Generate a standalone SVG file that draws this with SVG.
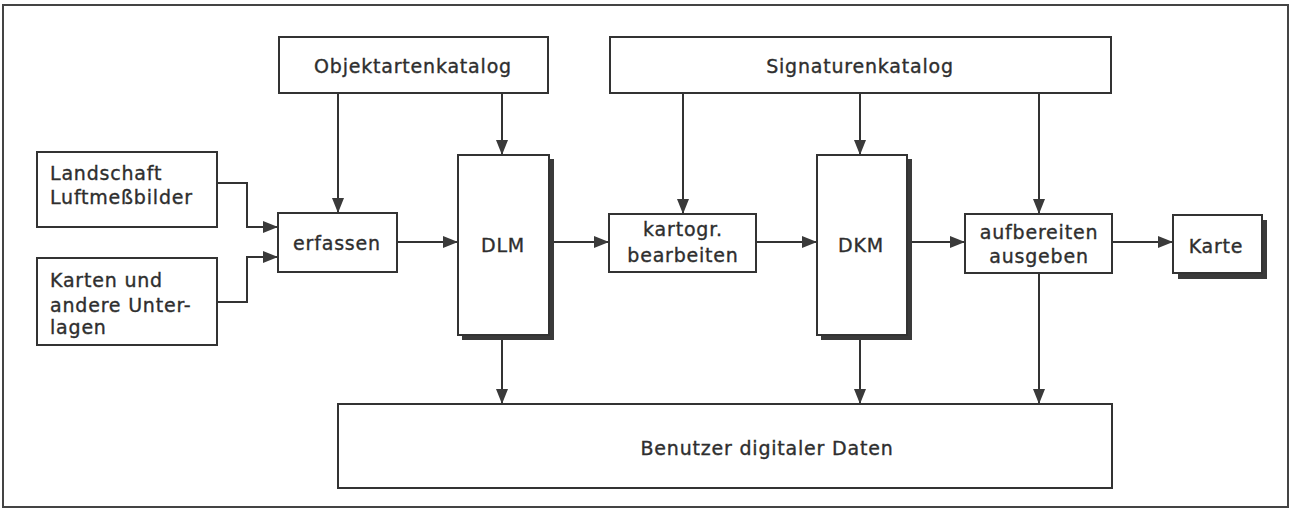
<svg xmlns="http://www.w3.org/2000/svg" width="1295" height="512" viewBox="0 0 1295 512">
<defs>
<style>
.box{fill:#fff;stroke:#333;stroke-width:2}
.sh{fill:#3a3a3a}
.t{font-family:"DejaVu Sans","Liberation Sans",sans-serif;font-size:19px;letter-spacing:0.8px;fill:#2e2e2e;stroke:#2e2e2e;stroke-width:0.35px}
.c{text-anchor:middle}
.ln{fill:none;stroke:#333;stroke-width:2}
</style>
<marker id="ah" viewBox="0 0 15 12" refX="15" refY="6" markerWidth="15" markerHeight="12" markerUnits="userSpaceOnUse" orient="auto">
<path d="M0,0 L15,6 L0,12 Z" fill="#3a3a3a"/>
</marker>
</defs>
<rect x="0" y="0" width="1295" height="512" fill="#fff"/>
<rect x="3" y="5" width="1285" height="502" fill="none" stroke="#444" stroke-width="2"/>

<g id="objektartenkatalog">
<rect class="box" x="279" y="37" width="269" height="56"/>
<text class="t c" x="413" y="73">Objektartenkatalog</text>
</g>
<g id="signaturenkatalog">
<rect class="box" x="610" y="37" width="501" height="56"/>
<text class="t c" x="860" y="73">Signaturenkatalog</text>
</g>
<g id="landschaft">
<rect class="box" x="37" y="152" width="180" height="75"/>
<text class="t" x="50" y="180">Landschaft</text>
<text class="t" x="50" y="204">Luftmeßbilder</text>
</g>
<g id="karten">
<rect class="box" x="37" y="258" width="180" height="87"/>
<text class="t" x="50" y="287">Karten und</text>
<text class="t" x="50" y="312">andere Unter-</text>
<text class="t" x="50" y="334">lagen</text>
</g>
<g id="erfassen">
<rect class="box" x="278" y="213" width="119" height="59"/>
<text class="t c" x="337" y="250">erfassen</text>
</g>
<g id="dlm">
<rect class="sh" x="462" y="159" width="92" height="181"/>
<rect class="box" x="458" y="155" width="91" height="180"/>
<text class="t c" x="503" y="252">DLM</text>
</g>
<g id="kartogr">
<rect class="box" x="609" y="214" width="147" height="58"/>
<text class="t c" x="683" y="236">kartogr.</text>
<text class="t c" x="683" y="262">bearbeiten</text>
</g>
<g id="dkm">
<rect class="sh" x="821" y="159" width="91" height="181"/>
<rect class="box" x="817" y="155" width="90" height="180"/>
<text class="t c" x="861" y="252">DKM</text>
</g>
<g id="aufbereiten">
<rect class="box" x="965" y="214" width="147" height="59"/>
<text class="t c" x="1039" y="239">aufbereiten</text>
<text class="t c" x="1039" y="263">ausgeben</text>
</g>
<g id="karte">
<rect class="sh" x="1178" y="220" width="89" height="59"/>
<rect class="box" x="1173" y="215" width="89" height="58"/>
<text class="t c" x="1216" y="253">Karte</text>
</g>
<g id="benutzer">
<rect class="box" x="338" y="404" width="774" height="84"/>
<text class="t c" x="767" y="455">Benutzer digitaler Daten</text>
</g>

<g id="connectors">
<path class="ln" marker-end="url(#ah)" d="M338,93 V213"/>
<path class="ln" marker-end="url(#ah)" d="M502,93 V155"/>
<path class="ln" marker-end="url(#ah)" d="M683,93 V214"/>
<path class="ln" marker-end="url(#ah)" d="M860,93 V155"/>
<path class="ln" marker-end="url(#ah)" d="M1039,93 V214"/>
<path class="ln" marker-end="url(#ah)" d="M217,183 H247 V227 H278"/>
<path class="ln" marker-end="url(#ah)" d="M217,302 H247 V257 H278"/>
<path class="ln" marker-end="url(#ah)" d="M397,242 H458"/>
<path class="ln" marker-end="url(#ah)" d="M554,242 H609"/>
<path class="ln" marker-end="url(#ah)" d="M756,242 H817"/>
<path class="ln" marker-end="url(#ah)" d="M912,242 H965"/>
<path class="ln" marker-end="url(#ah)" d="M1112,242 H1173"/>
<path class="ln" marker-end="url(#ah)" d="M502,340 V404"/>
<path class="ln" marker-end="url(#ah)" d="M860,340 V404"/>
<path class="ln" marker-end="url(#ah)" d="M1039,273 V404"/>
</g>
</svg>
